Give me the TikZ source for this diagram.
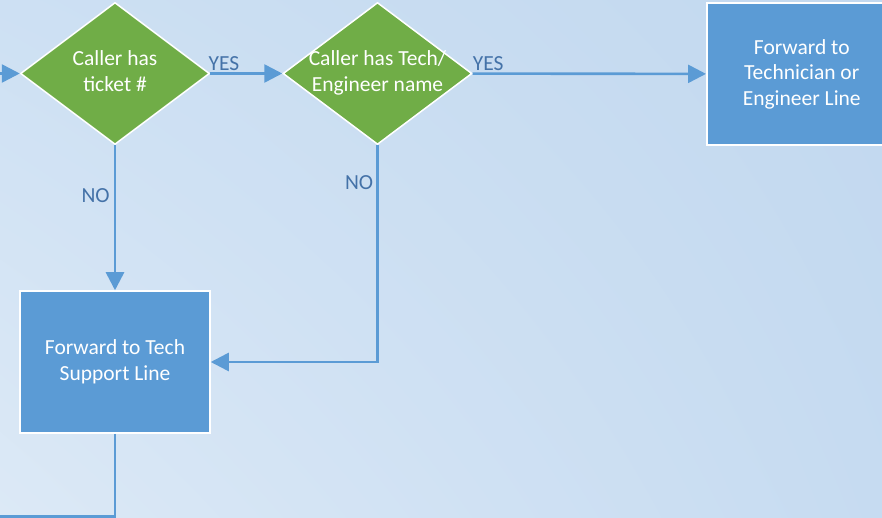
\documentclass[tikz,border=0pt]{standalone}
\usepackage{fontspec}
\setmainfont{Carlito}
\usepackage{xcolor}
\usetikzlibrary{arrows.meta, positioning, shapes.geometric, shadings}

\definecolor{flowgreen}{HTML}{70AD47}
\definecolor{flowblue}{HTML}{5B9BD5}
\definecolor{labelblue}{RGB}{68,114,168}
\definecolor{bgtl}{HTML}{CDE0F3}
\definecolor{bgtr}{HTML}{C2D8EF}
\definecolor{bgbl}{HTML}{DCE9F6}
\definecolor{bgbr}{HTML}{C6DBF1}

% text of a diamond, kept out of its size
\newcommand{\dtext}[1]{\makebox[0pt]{\begin{tabular}{@{}c@{}}#1\end{tabular}}}

\begin{document}
\begin{tikzpicture}[
      x=1pt, y=1pt,
      node distance=72pt and 72pt,
      decision/.style={diamond, draw=white, line width=1.5pt, fill=flowgreen, inner sep=0pt,
        minimum width=189pt, minimum height=142pt, text=white, font=\fontsize{21.5}{25.5}\selectfont},
      process/.style={rectangle, draw=white, line width=1.5pt, fill=flowblue, inner sep=0pt,
        minimum width=190pt, minimum height=142pt, text=white, align=center,
        font=\fontsize{21.5}{25.5}\selectfont},
      lbl/.style={text=labelblue, inner sep=1pt, font=\fontsize{21.5}{25}\selectfont},
      arrow/.style={-{Triangle[length=18pt, width=18pt]}, draw=flowblue, line width=2.6pt},
      conn/.style={draw=flowblue, line width=2.6pt}
    ]
        % background
        \useasboundingbox (0,0) rectangle (882,-518);
        \shade[upper left=bgtl, upper right=bgtr, lower left=bgbl, lower right=bgbr]
          (0,0) rectangle (882,-518);

        \node[decision] (ticket) at (115,-73.5) {\dtext{Caller has\\ticket \#}};
        \node[decision, right=72pt of ticket] (named) {\dtext{Caller has Tech/\\Engineer name}};
        \node[process, anchor=west] (engline) at (706,-74) {Forward to\\Technician or\\Engineer Line};
        \node[process, below=145pt of ticket.south, anchor=north] (support) {Forward to Tech\\Support Line};

        \coordinate (in) at (0,-73.5);
        \coordinate (out) at (0,-516.5);

        \draw[arrow] (in) -- (ticket);
        \draw[arrow] (ticket) -- node[lbl, pos=0, anchor=south west, xshift=-4pt, yshift=1pt] {YES} (named);
        \draw[arrow] (named) -- node[lbl, pos=0, anchor=south west, xshift=-2pt, yshift=1pt] {YES} (engline);
        \draw[arrow] (ticket) -- node[lbl, pos=0.35, anchor=east, xshift=-3pt] {NO} (support);
        \draw[arrow] (named.south) |- node[lbl, pos=0.085, anchor=east, xshift=-2pt] {NO} (support.east);
        \draw[conn] (support.south) |- (out);
    \end{tikzpicture}
\end{document}
